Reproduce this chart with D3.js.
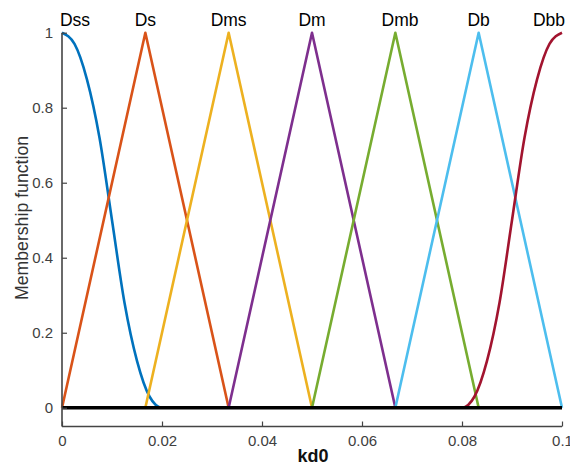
<!DOCTYPE html>
<html>
<head>
<meta charset="utf-8">
<script src="https://cdn.jsdelivr.net/npm/d3@7"></script>
<style>
  html, body { margin: 0; padding: 0; background: #fff; }
  svg { display: block; font-family: "Liberation Sans", Arial, sans-serif; }
</style>
</head>
<body>
<svg id="chart" width="570" height="465"></svg>
<script>
// Membership function names and colours
const names = ["Dss", "Ds", "Dms", "Dm", "Dmb", "Db", "Dbb"];
const colors = ["#0072BD", "#D95319", "#EDB120", "#7E2F8E", "#77AC30", "#4DBEEE", "#A2142F"];

// Z-shaped curve (Dss) and S-shaped curve (Dbb), sampled points
const dssX = [0, 0.0025, 0.005, 0.0075, 0.01, 0.0125, 0.015, 0.0175, 0.02, 0.1];
const dssY = [1, 0.97, 0.875, 0.72, 0.5, 0.28, 0.125, 0.03, 0, 0];
const dbbX = [0, 0.08, 0.0825, 0.085, 0.0875, 0.09, 0.0925, 0.095, 0.0975, 0.1];
const dbbY = [0, 0, 0.03, 0.125, 0.28, 0.5, 0.72, 0.875, 0.97, 1];

// Triangular functions: [left foot, peak, right foot]
const triangles = [
  [0, 0.01667, 0.03333],
  [0.01667, 0.03333, 0.05],
  [0.03333, 0.05, 0.06667],
  [0.05, 0.06667, 0.08333],
  [0.06667, 0.08333, 0.1]
];

// Label positions along kd0
const labelX = [0.0026, 0.01667, 0.03333, 0.05, 0.0676, 0.08333, 0.0974];

const xTicks = [0, 0.02, 0.04, 0.06, 0.08, 0.1];
const xTickLabels = ["0", "0.02", "0.04", "0.06", "0.08", "0.1"];
const yTicks = [0, 0.2, 0.4, 0.6, 0.8, 1];
const yTickLabels = ["0", "0.2", "0.4", "0.6", "0.8", "1"];

const svg = d3.select("#chart");
const x = d3.scaleLinear().domain([0, 0.1]).range([62, 562]);
const y = d3.scaleLinear().domain([-0.05, 1]).range([426.5, 32.7]);

// Build series
const series = [];
series.push(dssX.map((v, i) => [v, dssY[i]]));
triangles.forEach(t => {
  const pts = [];
  if (t[0] > 0) pts.push([0, 0]);
  pts.push([t[0], 0], [t[1], 1], [t[2], 0]);
  if (t[2] < 0.1) pts.push([0.1, 0]);
  series.push(pts);
});
series.push(dbbX.map((v, i) => [v, dbbY[i]]));

const line = d3.line().x(d => x(d[0])).y(d => y(d[1]));
const smooth = d3.line().x(d => x(d[0])).y(d => y(d[1])).curve(d3.curveMonotoneX);

series.forEach((s, i) => {
  svg.append("path")
    .attr("d", (i === 0 || i === 6) ? smooth(s) : line(s))
    .attr("fill", "none")
    .attr("stroke", colors[i])
    .attr("stroke-width", 2.6)
    .attr("stroke-linejoin", "round");
});

// Zero baseline
svg.append("line")
  .attr("x1", x(0)).attr("x2", x(0.1))
  .attr("y1", y(0)).attr("y2", y(0))
  .attr("stroke", "#000").attr("stroke-width", 3.5);

// Labels
names.forEach((n, i) => {
  svg.append("text")
    .attr("x", x(labelX[i])).attr("y", 26)
    .attr("text-anchor", "middle")
    .attr("font-size", 17.5)
    .attr("fill", "#000")
    .text(n);
});

// Axes
const axisColor = "#444";
const xAxis = d3.axisBottom(x).tickValues(xTicks)
  .tickFormat((d, i) => xTickLabels[i]).tickSize(-5).tickPadding(9);
const gx = svg.append("g").attr("transform", `translate(0,${y(-0.05)})`).call(xAxis);
const yAxis = d3.axisLeft(y).tickValues(yTicks)
  .tickFormat((d, i) => yTickLabels[i]).tickSize(-5).tickPadding(9);
const gy = svg.append("g").attr("transform", `translate(${x(0)},0)`).call(yAxis);

[gx, gy].forEach(g => {
  g.select(".domain").remove();
  g.selectAll(".tick line").attr("stroke", axisColor).attr("stroke-width", 1.2);
  g.selectAll(".tick text").attr("fill", "#404040").attr("font-size", 15)
    .attr("font-family", "'Liberation Sans', Arial, sans-serif");
});
svg.append("line").attr("x1", x(0)).attr("x2", x(0.1))
  .attr("y1", y(-0.05)).attr("y2", y(-0.05))
  .attr("stroke", axisColor).attr("stroke-width", 1.6);
svg.append("line").attr("x1", x(0)).attr("x2", x(0))
  .attr("y1", y(-0.05)).attr("y2", y(1))
  .attr("stroke", axisColor).attr("stroke-width", 1.6);

// Axis titles
svg.append("text")
  .attr("x", 313).attr("y", 462)
  .attr("text-anchor", "middle")
  .attr("font-size", 18).attr("font-weight", "bold")
  .attr("fill", "#111")
  .text("kd0");
svg.append("text")
  .attr("transform", "translate(28,218) rotate(-90)")
  .attr("text-anchor", "middle")
  .attr("font-size", 17.7)
  .attr("fill", "#333")
  .text("Membership function");
</script>
</body>
</html>
